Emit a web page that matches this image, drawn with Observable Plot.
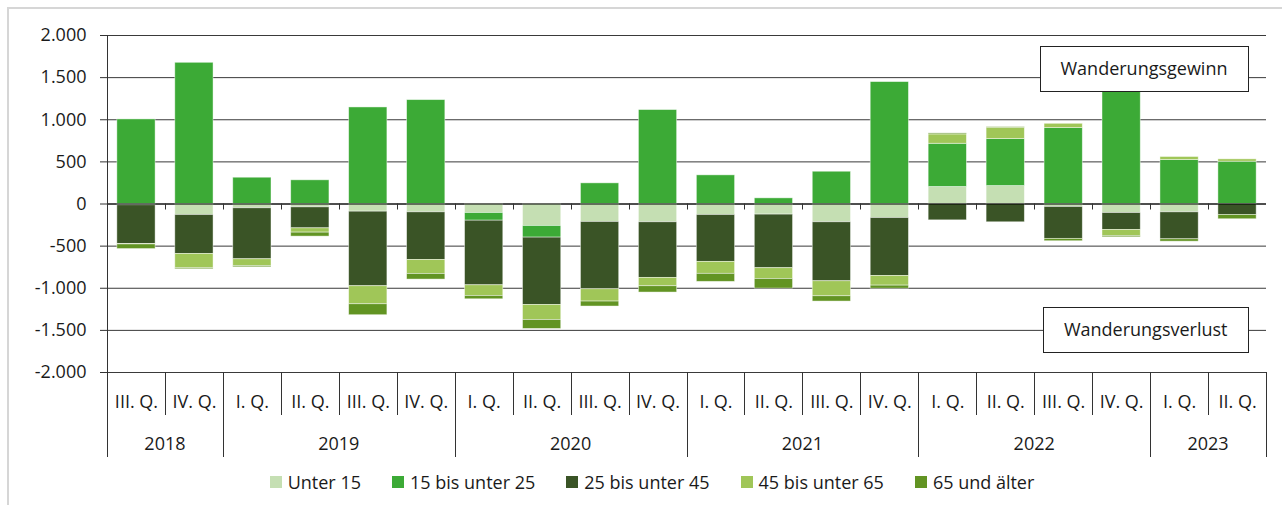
<!DOCTYPE html>
<html><head><meta charset="utf-8">
<script src="https://cdn.jsdelivr.net/npm/d3@7"></script>
<script src="https://cdn.jsdelivr.net/npm/@observablehq/plot@0.6"></script>
<style>
body{margin:0;background:#fff;font-family:"Open Sans",sans-serif;}
#wrap{position:relative;width:1282px;height:505px;overflow:hidden;background:#fff;}
#frame{position:absolute;left:7px;top:7px;width:1400px;height:600px;border:2px solid #d6d6d6;box-sizing:border-box;pointer-events:none;}
#chart{position:absolute;left:0;top:0;}
#legend{position:absolute;top:470px;left:8px;width:1288px;height:24px;display:flex;justify-content:center;align-items:center;font-size:18px;color:#1a1a1a;font-family:"Open Sans",sans-serif;}
.item{display:flex;align-items:center;margin:0 15.5px;white-space:nowrap;}
.sw{width:12px;height:12px;margin-right:6px;flex:none;}
</style></head>
<body><div id="wrap"><div id="chart"></div><div id="legend"></div><div id="frame"></div></div>
<script>
const quarters = ["III. Q.","IV. Q.","I. Q.","II. Q.","III. Q.","IV. Q.","I. Q.","II. Q.","III. Q.","IV. Q.","I. Q.","II. Q.","III. Q.","IV. Q.","I. Q.","II. Q.","III. Q.","IV. Q.","I. Q.","II. Q."];
const years = [2018,2018,2019,2019,2019,2019,2020,2020,2020,2020,2021,2021,2021,2021,2022,2022,2022,2022,2023,2023];
const groups = ["Unter 15","15 bis unter 25","25 bis unter 45","45 bis unter 65","65 und älter"];
const colors = ["#c5dfb3","#3caa36","#3a5426","#a0c658","#629423"];
const unter15   = [-15,-130,-51,-40,-91,-99,-107,-261,-213,-217,-130,-126,-217,-166,202,213,-35,-107,-99,0];
const age15to25 = [1004,1676,312,281,1146,1233,-91,-138,245,1115,340,67,383,1447,513,558,901,1400,522,502];
const age25to45 = [-460,-463,-605,-249,-885,-565,-767,-799,-799,-660,-557,-636,-700,-688,-194,-217,-379,-201,-320,-130];
const age45to65 = [-5,-170,-80,-51,-214,-166,-126,-178,-146,-99,-142,-127,-178,-115,111,134,51,-71,36,28];
const age65plus = [-55,-12,-15,-47,-130,-67,-40,-107,-59,-75,-95,-115,-63,-36,12,8,-28,-16,-28,-51];
const yTicks = [-2000,-1500,-1000,-500,0,500,1000,1500,2000];
const annotations = [{label:"Wanderungsgewinn", value:1600},{label:"Wanderungsverlust", value:-1500}];

const series = [unter15, age15to25, age25to45, age45to65, age65plus];
const keys = quarters.map((q,i) => `${years[i]} ${q}`);
const data = groups.flatMap((g,j) => keys.map((k,i) => ({key:k, group:g, value:series[j][i]})));
const fmt = d3.formatLocale({decimal:",", thousands:".", grouping:[3], currency:["",""], minus:"-"}).format(",");
const FONT = "18px 'Open Sans'";

function axisDecor(index, scales) {
  const x = scales.x, y = scales.y;
  const step = x.step(), bw = x.bandwidth(), off = (step - bw) / 2;
  const bounds = keys.map(k => x(k) - off).concat([x(keys[keys.length-1]) + bw + off]);
  const px = v => Math.round(v) + 0.5;
  const g = d3.create("svg:g");
  const lines = g.append("g").attr("stroke", "#333").attr("stroke-width", 1);
  const yTop = y(2000), yBot = y(-2000), y0 = y(0);
  lines.append("line").attr("x1", px(bounds[0])).attr("x2", px(bounds[0])).attr("y1", yTop).attr("y2", yBot);
  bounds.forEach((b, k) => {
    if (k > 0 && k < bounds.length - 1)
      lines.append("line").attr("x1", px(b)).attr("x2", px(b)).attr("y1", y0).attr("y2", y0 + 6);
    const yearBoundary = k === 0 || k === bounds.length - 1 || years[k] !== years[k-1];
    lines.append("line").attr("x1", px(b)).attr("x2", px(b)).attr("y1", yBot).attr("y2", yBot + (yearBoundary ? 85 : 43));
  });
  const uniq = [...new Set(years)];
  const txt = g.append("g").attr("fill", "#1a1a1a").attr("text-anchor", "middle").attr("font-size", 18);
  uniq.forEach(yr => {
    const idx = years.map((v,i) => v === yr ? i : -1).filter(i => i >= 0);
    const cx = (bounds[idx[0]] + bounds[idx[idx.length-1] + 1]) / 2;
    txt.append("text").attr("x", cx).attr("y", yBot + 78).text(yr);
  });
  return g.node();
}

const ctx = document.createElement("canvas").getContext("2d");
function annoBoxes(index, scales, values, dims) {
  const y = scales.y;
  const right = dims.width - dims.marginRight - 39;
  const g = d3.create("svg:g");
  ctx.font = FONT;
  annotations.forEach(a => {
    const w = ctx.measureText(a.label).width;
    const cy = y(a.value);
    g.append("rect").attr("x", Math.round(right - w - 20) + 0.5).attr("y", Math.round(cy - 23) + 0.5)
      .attr("width", Math.round(w + 41)).attr("height", 45)
      .attr("fill", "white").attr("stroke", "#222").attr("stroke-width", 1);
  });
  return g.node();
}

const chart = Plot.plot({
  width: 1282, height: 462,
  marginLeft: 107, marginRight: 16, marginTop: 35, marginBottom: 90,
  style: {fontFamily: "Open Sans, sans-serif", fontSize: "18px", color: "#1a1a1a", background: "transparent"},
  x: {type: "band", domain: keys, paddingInner: 0.34, paddingOuter: 0.17, round: false, axis: null},
  y: {domain: [-2000, 2000], axis: null},
  color: {domain: groups, range: colors},
  marks: [
    Plot.gridY({ticks: yTicks, stroke: "#3a3a3a", strokeOpacity: 1}),
    Plot.axisY({ticks: yTicks, tickSize: 7, tickPadding: 14, tickFormat: fmt, stroke: "#333", label: null}),
    Plot.axisX({tickSize: 0, tickPadding: 23, tickFormat: k => k.slice(5), label: null}),
    Plot.barY(data, {x: "key", y: "value", fill: "group", stroke: "white", strokeWidth: 0.8, strokeOpacity: 0.55}),
    Plot.ruleY([0], {stroke: "#000"}),
    axisDecor,
    annoBoxes,
    Plot.text(annotations, {y: "value", text: "label", frameAnchor: "right", textAnchor: "end", dx: -39, fill: "#1a1a1a"})
  ]
});
document.getElementById("chart").append(chart);

// legend from the color scale
const cs = chart.scale("color");
const leg = document.getElementById("legend");
cs.domain.forEach((d, i) => {
  const it = document.createElement("div"); it.className = "item";
  const sw = document.createElement("div"); sw.className = "sw"; sw.style.background = cs.range[i];
  const tx = document.createElement("span"); tx.textContent = d;
  it.append(sw, tx); leg.append(it);
});
</script></body></html>
